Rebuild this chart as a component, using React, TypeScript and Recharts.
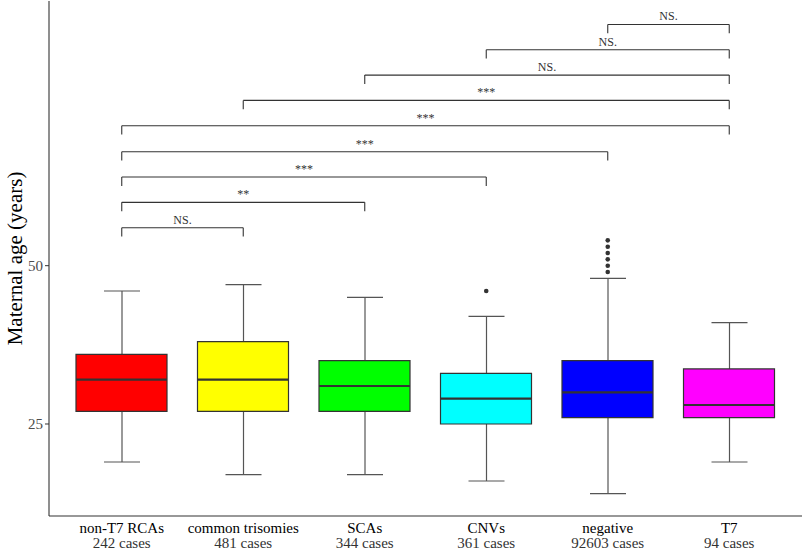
import React from 'react';
import { ComposedChart, Bar, Line, XAxis, YAxis, ReferenceLine, Cell } from 'recharts';

const SERIF = "'Liberation Serif', 'Times New Roman', serif";

const groups = ['non-T7 RCAs', 'common trisomies', 'SCAs', 'CNVs', 'negative', 'T7'];
const caseCounts = [242, 481, 344, 361, 92603, 94];
const lowerWhisker = [19, 17, 17, 16, 14, 19];
const q1 = [27, 27, 27, 25, 26, 26];
const medians = [32, 32, 31, 29, 30, 28];
const q3 = [36, 38, 35, 33, 35, 33.7];
const upperWhisker = [46, 47, 45, 42, 48, 41];
const outliers: number[][] = [[], [], [], [46], [49, 50, 51, 52, 53, 54], []];
const boxColors = ['#FF0000', '#FFFF00', '#00FF00', '#00FFFF', '#0000FF', '#FF00FF'];
const yTicks = [25, 50];

// significance brackets, from top to bottom
const cmpFrom = ['negative', 'CNVs', 'SCAs', 'common trisomies', 'non-T7 RCAs', 'non-T7 RCAs', 'non-T7 RCAs', 'non-T7 RCAs', 'non-T7 RCAs'];
const cmpTo = ['T7', 'T7', 'T7', 'T7', 'T7', 'negative', 'CNVs', 'SCAs', 'common trisomies'];
const cmpLevel = [88.1, 84.1, 80.1, 76.1, 72.1, 68.0, 64.0, 60.0, 56.0];
const cmpLabel = ['NS.', 'NS.', 'NS.', '***', '***', '***', '***', '**', 'NS.'];
const TICK_DROP = 1.4;

const rows = groups.map((name, i) => ({
  name,
  whisker: [lowerWhisker[i], upperWhisker[i]],
  box: [q1[i], q3[i]],
  mid: [medians[i], medians[i]],
  pts: outliers[i],
}));

const maxOutliers = Math.max(...outliers.map(o => o.length));

const WhiskerShape = (props: any) => {
  const { x, y, width, height } = props;
  const top = Math.min(y, y + height);
  const bottom = Math.max(y, y + height);
  const cx = x + width / 2;
  return (
    <g stroke="#555" strokeWidth={1.2}>
      <line x1={cx} x2={cx} y1={top} y2={bottom} />
      <line x1={x} x2={x + width} y1={top} y2={top} />
      <line x1={x} x2={x + width} y1={bottom} y2={bottom} />
    </g>
  );
};

const MedianShape = (props: any) => {
  const { x, y, width, height } = props;
  const my = y + (height || 0) / 2;
  return <line x1={x} x2={x + width} y1={my} y2={my} stroke="#333" strokeWidth={2.2} />;
};

const GroupTick = (props: any) => {
  const { x, y, payload } = props;
  const idx = groups.indexOf(payload.value);
  return (
    <g fontFamily={SERIF} fontSize={15} textAnchor="middle">
      <text x={x} y={y + 17} fill="#000">{payload.value}</text>
      <text x={x} y={y + 32} fill="#333">{caseCounts[idx]} cases</text>
    </g>
  );
};

const YTitle = (props: any) => {
  const vb = props.viewBox || { x: 0, y: 1, width: 49, height: 515 };
  const cx = vb.x + 15;
  const cy = vb.y + vb.height / 2;
  return (
    <text x={cx} y={cy} transform={`rotate(-90, ${cx}, ${cy})`} textAnchor="middle" dominantBaseline="central"
      fontFamily={SERIF} fontSize={21} fill="#000">
      Maternal age (years)
    </text>
  );
};

const pad = { left: 12, right: 12 };

export default function App() {
  return (
    <div style={{ position: 'absolute', left: 0, top: 0, background: '#fff' }}>
      <ComposedChart width={803} height={551} data={rows} margin={{ top: 1, right: 1, left: 0, bottom: 0 }}>
        <XAxis dataKey="name" padding={pad} height={35} interval={0} tickLine={false} tickSize={0} tickMargin={0}
          axisLine={{ stroke: '#333', strokeWidth: 1.1 }} tick={<GroupTick />} />
        <XAxis xAxisId="w" dataKey="name" padding={pad} hide />
        <XAxis xAxisId="m" dataKey="name" padding={pad} hide />
        <YAxis domain={[10.47, 91.8]} allowDataOverflow ticks={yTicks} width={49} tickSize={4} tickMargin={2}
          axisLine={{ stroke: '#333', strokeWidth: 1.1 }} tickLine={{ stroke: '#333' }}
          tick={{ fill: '#4d4d4d', fontSize: 15, fontFamily: SERIF }} label={<YTitle />} />

        <Bar xAxisId="w" dataKey="whisker" barSize={36} shape={<WhiskerShape />} isAnimationActive={false} />
        <Bar dataKey="box" barSize={91} stroke="#333" strokeWidth={1.2} isAnimationActive={false}>
          {rows.map((r, i) => <Cell key={r.name} fill={boxColors[i]} />)}
        </Bar>
        <Bar xAxisId="m" dataKey="mid" barSize={91} shape={<MedianShape />} isAnimationActive={false} />

        {Array.from({ length: maxOutliers }, (_, k) => (
          <Line key={`o${k}`} dataKey={(r: any) => (r.pts[k] ?? null)} stroke="none" isAnimationActive={false}
            dot={{ r: 2.3, fill: '#333', stroke: 'none' }} activeDot={false} legendType="none" />
        ))}

        {cmpLevel.map((lvl, i) => (
          <ReferenceLine key={`h${i}`} segment={[{ x: cmpFrom[i], y: lvl }, { x: cmpTo[i], y: lvl }]}
            stroke="#333" strokeWidth={1.1}
            label={{ value: cmpLabel[i], position: 'top', offset: 4, fill: '#333', fontSize: 12, fontFamily: SERIF }} />
        ))}
        {cmpLevel.map((lvl, i) => (
          <ReferenceLine key={`a${i}`} segment={[{ x: cmpFrom[i], y: lvl }, { x: cmpFrom[i], y: lvl - TICK_DROP }]}
            stroke="#333" strokeWidth={1.1} />
        ))}
        {cmpLevel.map((lvl, i) => (
          <ReferenceLine key={`b${i}`} segment={[{ x: cmpTo[i], y: lvl }, { x: cmpTo[i], y: lvl - TICK_DROP }]}
            stroke="#333" strokeWidth={1.1} />
        ))}
      </ComposedChart>
    </div>
  );
}
